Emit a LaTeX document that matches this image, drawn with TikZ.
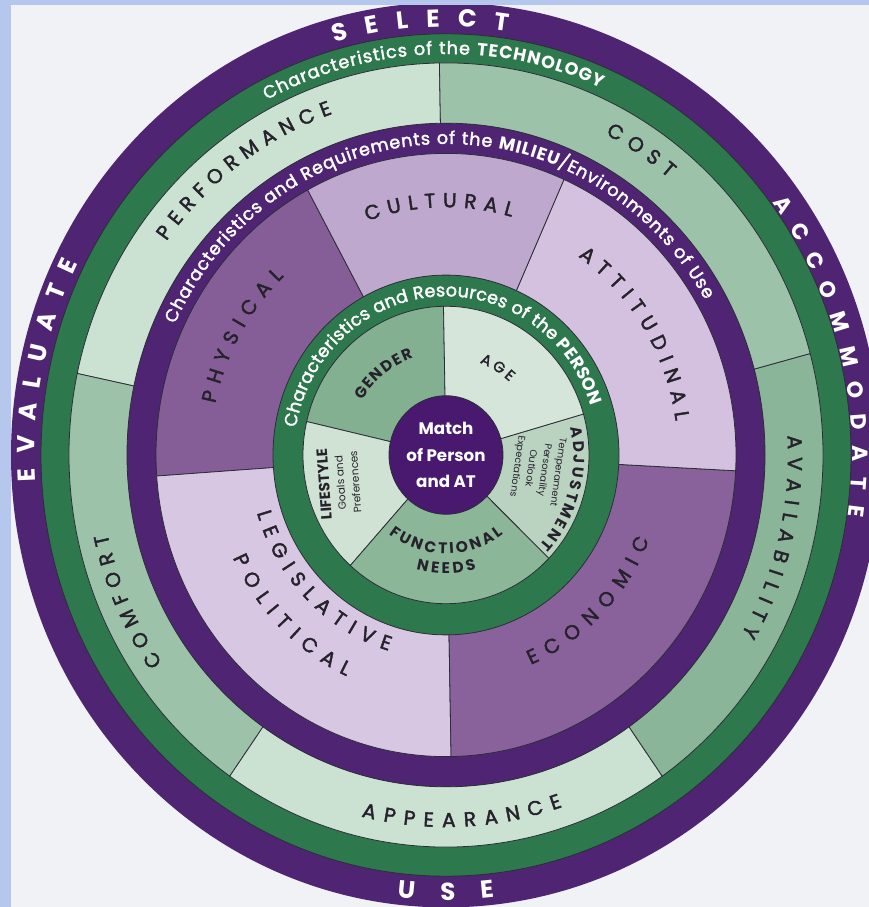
\documentclass[tikz,border=0pt]{standalone}
\usepackage{fontspec}
\setmainfont{Poppins}
\newfontfamily\medfont{Poppins}[FakeBold=2]
\usetikzlibrary{decorations.text}
\definecolor{paper}{RGB}{240,242,246}
\definecolor{edgeblue}{RGB}{181,199,236}
\definecolor{deeppurple}{RGB}{78,36,115}
\definecolor{bandgreen}{RGB}{46,120,78}
\definecolor{techlight}{RGB}{203,226,210}
\definecolor{techmid}{RGB}{157,194,170}
\definecolor{techdark}{RGB}{138,181,152}
\definecolor{milphys}{RGB}{133,94,152}
\definecolor{milecon}{RGB}{138,98,155}
\definecolor{milcult}{RGB}{190,168,205}
\definecolor{milatt}{RGB}{211,193,223}
\definecolor{millegis}{RGB}{216,199,227}
\definecolor{ingender}{RGB}{132,176,146}
\definecolor{inage}{RGB}{213,229,217}
\definecolor{inadj}{RGB}{186,211,193}
\definecolor{infunc}{RGB}{140,182,152}
\definecolor{inlife}{RGB}{208,226,212}
\definecolor{centrepurple}{RGB}{72,25,110}
\definecolor{labeldark}{RGB}{38,34,44}
\definecolor{rimline}{RGB}{45,45,55}

% complete formats for the texts on arcs
\newcommand{\verbfmt}{\normalfont\bfseries\fontsize{14}{14}\selectfont}
\newcommand{\verbsmallfmt}{\normalfont\bfseries\fontsize{12.5}{12.5}\selectfont}
\newcommand{\bandfmt}{\medfont\fontsize{10}{10}\selectfont}
\newcommand{\bandboldfmt}{\normalfont\bfseries\fontsize{10}{10}\selectfont}
\newcommand{\catfmt}{\medfont\fontsize{11.5}{11.5}\selectfont}
\newcommand{\innerfmt}{\normalfont\bfseries\fontsize{8.8}{8.8}\selectfont}
\newcommand{\agefmt}{\medfont\fontsize{8.5}{8.5}\selectfont}

% pie slice: style, start angle, end angle, x radius
\newcommand{\pieslice}[4]{%
  \pgfmathsetmacro{\pry}{#4*1.04}%
  \filldraw[#1] (0,0) -- (#2:#4 and \pry) arc[start angle=#2, end angle=#3, x radius=#4, y radius=\pry] -- cycle;%
}
% text on elliptic arc: x radius, a1, a2, raise, colour, text (with formats)
\newcommand{\arclabel}[6]{%
  \pgfmathsetmacro{\ary}{#1*1.04}%
  \path[decorate, decoration={text along path, text color=#5, text align={fit to path}, raise=#4,
     text={#6}}]
     (#2:#1 and \ary) arc[start angle=#2, end angle=#3, x radius=#1, y radius=\ary];%
}

\tikzset{
  rim/.style={draw=rimline, line width=0.45pt},
  centretext/.style={text=white, font=\bfseries\fontsize{9.5}{15}\selectfont, align=center, inner sep=0pt},
  smalltext/.style={text=labeldark, align=center, inner sep=0pt},
}

\begin{document}
\begin{tikzpicture}[x=0.02cm, y=0.02cm]
\useasboundingbox (0,0) rectangle (869,907);
\clip (0,0) rectangle (869,907);
\fill[paper] (0,0) rectangle (869,907);

\begin{scope}[shift={(446,452)}]
  % outer rings
  \fill[deeppurple] (0,0) ellipse [x radius=435, y radius=452.4];
  \filldraw[bandgreen, rim] (0,0) ellipse [x radius=405, y radius=421.2];
  % technology segments
  \pieslice{fill=techlight, rim}{91}{168}{377}
  \pieslice{fill=techmid, rim}{168}{235}{377}
  \pieslice{fill=techlight, rim}{235}{305}{377}
  \pieslice{fill=techdark, rim}{305}{375}{377}
  \pieslice{fill=techmid, rim}{15}{91}{377}
  % milieu band
  \filldraw[deeppurple, rim] (0,0) ellipse [x radius=319, y radius=331.8];
  \pieslice{fill=milphys, rim}{118.5}{184}{290}
  \pieslice{fill=millegis, rim}{184}{271}{290}
  \pieslice{fill=milecon, rim}{271}{357}{290}
  \pieslice{fill=milatt, rim}{-3}{66}{290}
  \pieslice{fill=milcult, rim}{66}{118.5}{290}
  % person band
  \filldraw[bandgreen, rim] (0,0) ellipse [x radius=173, y radius=179.9];
  \pieslice{fill=ingender, rim}{91}{167}{143}
  \pieslice{fill=inlife, rim}{167}{228}{143}
  \pieslice{fill=infunc, rim}{228}{316}{143}
  \pieslice{fill=inadj, rim}{316}{376}{143}
  \pieslice{fill=inage, rim}{16}{91}{143}
  % centre
  \filldraw[centrepurple, rim] (0,0) ellipse [x radius=57, y radius=59.3];
  \node[centretext] (match) at (0,0) {Match\\of Person\\and AT};

  % outer verbs
  \arclabel{420}{105.7}{81.3}{-4.9pt}{white}{|\verbfmt|SELECT}
  \arclabel{414}{36.6}{-8.3}{-4.4pt}{white}{|\verbsmallfmt|ACCOMMODATE}
  \arclabel{420}{263.5}{276.5}{-4.9pt}{white}{|\verbfmt|USE}
  \arclabel{420}{183.5}{153.4}{-4.9pt}{white}{|\verbfmt|EVALUATE}

  % technology
  \arclabel{391}{117.7}{66.3}{-3.2pt}{white}{|\bandfmt|Characteristics of the |\bandboldfmt|TECHNOLOGY}
  \arclabel{354}{143.7}{109.1}{-4pt}{labeldark}{|\catfmt|PERFORMANCE}
  \arclabel{354}{62.6}{50.1}{-4pt}{labeldark}{|\catfmt|COST}
  \arclabel{349}{3.1}{-30.2}{-4pt}{labeldark}{|\catfmt|AVAILABILITY}
  \arclabel{351}{256.3}{289}{-4pt}{labeldark}{|\catfmt|APPEARANCE}
  \arclabel{354}{215.1}{192.6}{-4pt}{labeldark}{|\catfmt|COMFORT}

  % milieu
  \arclabel{304.5}{155.1}{29.9}{-3.2pt}{white}{|\bandfmt|Characteristics and Requirements of the |\bandboldfmt|MILIEU|\bandfmt|/Environments of Use}
  \arclabel{245}{109.3}{74}{-4pt}{labeldark}{|\catfmt|CULTURAL}
  \arclabel{239}{55.2}{8.1}{-4pt}{labeldark}{|\catfmt|ATTITUDINAL}
  \arclabel{243}{167.9}{133.4}{-4pt}{labeldark}{|\catfmt|PHYSICAL}
  \arclabel{228}{204.9}{245}{-4pt}{labeldark}{|\catfmt|POLITICAL}
  \arclabel{190}{196.4}{253.2}{-4pt}{labeldark}{|\catfmt|LEGISLATIVE}
  \arclabel{212}{292.7}{338.2}{-4pt}{labeldark}{|\catfmt|ECONOMIC}

  % person
  \arclabel{158}{170}{18}{-3.2pt}{white}{|\bandfmt|Characteristics and Resources of the |\bandboldfmt|PERSON}
  \arclabel{104}{148}{109.5}{-3.1pt}{labeldark}{|\innerfmt|GENDER}
  \arclabel{100}{69}{48}{-3pt}{labeldark}{|\agefmt|AGE}
  \arclabel{90}{233}{307}{-3.1pt}{labeldark}{|\innerfmt|FUNCTIONAL}
  \arclabel{109}{254.8}{285.5}{-3.1pt}{labeldark}{|\innerfmt|NEEDS}
  \arclabel{133}{11.9}{-42.9}{-3.1pt}{labeldark}{|\innerfmt|ADJUSTMENT}
  \node[smalltext, rotate=94, font=\fontsize{6}{8.5}\selectfont] (life) at (-107,-28)
    {{\bfseries\fontsize{8.5}{9}\selectfont LIFESTYLE}\\Goals and\\Preferences};
  \node[smalltext, rotate=-98, font=\fontsize{5.5}{7.8}\selectfont] (adjsub) at (91,-14)
    {Temperament\\Personality\\Outlook\\Expectations};
\end{scope}

% page edges
\fill[edgeblue] (0,902) rectangle (869,907);
\fill[edgeblue] (0,0) rectangle (11,907);
\end{tikzpicture}
\end{document}
